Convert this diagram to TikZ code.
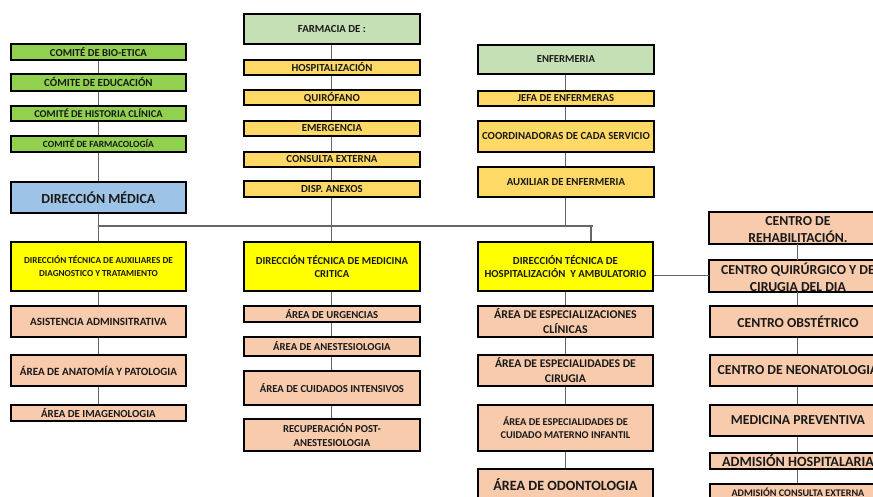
\documentclass[tikz,border=0pt]{standalone}
\usepackage{fontspec}
\setmainfont{Carlito}
\definecolor{cGreen}{HTML}{92D050}
\definecolor{cBlue}{HTML}{9DC3E6}
\definecolor{cLGreen}{HTML}{C5E0B4}
\definecolor{cGold}{HTML}{FFD966}
\definecolor{cYellow}{HTML}{FFFF00}
\definecolor{cPeach}{HTML}{F8CBAD}
\newcommand\fsz[2]{\fontsize{#1}{#2}\selectfont\bfseries}
\newcommand\bx[7]{\node[box,#6,anchor=north west,minimum width={(#4-#2)*0.75pt},minimum height={(#5-#3)*0.75pt}] (#1) at (#2,#3) {#7};}
\tikzset{
  box/.style={draw=black,line width=1.4pt,inner sep=1pt,align=center,text=black!90},
  txt/.style={inner sep=0pt,align=center,text=black!90},
  conn/.style={draw=black!60,line width=0.8pt},
  gr/.style={fill=cGreen},
  gd/.style={fill=cGold},
  pc/.style={fill=cPeach},
  yl/.style={fill=cYellow},
  lg/.style={fill=cLGreen}
}
\begin{document}
\begin{tikzpicture}[x=0.75pt,y=-0.75pt]
\useasboundingbox (0,0) rectangle (873,496);
\clip (0,0) rectangle (873,496);
\fill[white] (0,0) rectangle (873,496);
% left column
\bx{bio}{10}{43}{185}{59}{gr,font=\fsz{8}{9}}{COMITÉ DE BIO-ETICA}
\bx{edu}{10}{73}{185}{90}{gr,font=\fsz{8.2}{9}}{CÓMITE DE EDUCACIÓN}
\bx{hist}{10}{105}{185}{120}{gr,font=\fsz{7.8}{9}}{COMITÉ DE HISTORIA CLÍNICA}
\bx{farmc}{10}{135}{185}{151}{gr,font=\fsz{7.1}{9}}{COMITÉ DE FARMACOLOGÍA}
\bx{dm}{10}{181}{185}{212}{fill=cBlue,font=\fsz{10.4}{12}}{DIRECCIÓN MÉDICA}
\bx{dta}{10}{241}{185}{290}{yl,font=\fsz{6.9}{9.75}}{DIRECCIÓN TÉCNICA DE AUXILIARES DE\\DIAGNOSTICO Y TRATAMIENTO}
\bx{asis}{10}{305}{185}{336}{pc,font=\fsz{8.3}{9}}{ASISTENCIA ADMINSITRATIVA}
\bx{anat}{10}{354}{185}{385}{pc,font=\fsz{8.3}{9}}{ÁREA DE ANATOMÍA Y PATOLOGIA}
\bx{imag}{10}{404}{185}{420}{pc,font=\fsz{8.1}{9}}{ÁREA DE IMAGENOLOGIA}
% farmacia column
\bx{farm}{243}{13}{419}{43}{lg,font=\fsz{8.1}{9}}{FARMACIA DE :}
\bx{fh}{243}{59}{419}{74}{gd,font=\fsz{8.1}{9}}{HOSPITALIZACIÓN}
\bx{fq}{243}{89}{419}{104}{gd,font=\fsz{8.1}{9}}{QUIRÓFANO}
\bx{fe}{243}{120}{419}{135}{gd,font=\fsz{8.1}{9}}{EMERGENCIA}
\bx{fc}{243}{151}{419}{166}{gd,font=\fsz{8.1}{9}}{CONSULTA EXTERNA}
\bx{fd}{243}{180}{419}{196}{gd,font=\fsz{8.1}{9}}{DISP. ANEXOS}
\bx{dmc}{243}{241}{419}{290}{yl,font=\fsz{8}{9.75}}{DIRECCIÓN TÉCNICA DE MEDICINA\\CRITICA}
\bx{urg}{243}{305}{419}{321}{pc,font=\fsz{8}{9}}{ÁREA DE URGENCIAS}
\bx{anes}{243}{336}{419}{355}{pc,font=\fsz{8}{9}}{ÁREA DE ANESTESIOLOGIA}
\bx{uci}{243}{370}{419}{404}{pc,font=\fsz{8}{9}}{ÁREA DE CUIDADOS INTENSIVOS}
\bx{rec}{243}{418}{419}{450}{pc,font=\fsz{8}{10.5}}{RECUPERACIÓN POST-\\ANESTESIOLOGIA}
% enfermeria column
\bx{enf}{477}{44}{653}{73}{lg,font=\fsz{8}{9}}{ENFERMERIA}
\bx{jefa}{477}{90}{653}{105}{gd,font=\fsz{8}{9}}{JEFA DE ENFERMERAS}
\bx{coord}{477}{120}{653}{151}{gd,font=\fsz{8.1}{9}}{COORDINADORAS DE CADA SERVICIO}
\bx{aux}{477}{166}{653}{196}{gd,font=\fsz{8.1}{9}}{AUXILIAR DE ENFERMERIA}
\bx{dth}{477}{241}{652}{290}{yl,font=\fsz{8.1}{9.75}}{DIRECCIÓN TÉCNICA DE\\HOSPITALIZACIÓN\ \ Y AMBULATORIO}
\bx{esc}{477}{305}{652}{336}{pc,font=\fsz{8.9}{11.25}}{ÁREA DE ESPECIALIZACIONES\\CLÍNICAS}
\bx{ecir}{477}{354}{652}{385}{pc,font=\fsz{8.8}{11.25}}{ÁREA DE ESPECIALIDADES DE\\CIRUGIA}
\bx{emat}{477}{404}{652}{450}{pc,font=\fsz{7.8}{9.75}}{ÁREA DE ESPECIALIDADES DE\\CUIDADO MATERNO INFANTIL}
\bx{odon}{477}{468}{652}{499}{pc,font=\fsz{10.6}{12}}{ÁREA DE ODONTOLOGIA}
% right column
\bx{rehab}{709}{212}{885}{242}{pc,draw=none}{}
\begin{scope}
\clip (rehab.north west) rectangle (rehab.south east);
\node[txt,font=\fsz{10.3}{13}] (rehabT) at ([yshift=-1pt]rehab.center) {CENTRO DE\\REHABILITACIÓN.};
\end{scope}
\draw[line width=1.4pt] (rehab.north west) rectangle (rehab.south east);
\bx{quir}{709}{260}{885}{290}{pc,draw=none}{}
\begin{scope}
\clip (quir.north west) rectangle (quir.south east);
\node[txt,font=\fsz{10.3}{13}] (quirT) at ([yshift=-1pt]quir.center) {CENTRO QUIRÚRGICO Y DE\\CIRUGIA DEL DIA};
\end{scope}
\draw[line width=1.4pt] (quir.north west) rectangle (quir.south east);
\bx{obst}{709}{305}{885}{336}{pc,font=\fsz{10.3}{12}}{CENTRO OBSTÉTRICO}
\bx{neo}{709}{354}{885}{385}{pc,font=\fsz{10.3}{12}}{CENTRO DE NEONATOLOGIA}
\bx{prev}{709}{404}{885}{435}{pc,font=\fsz{10.3}{12}}{MEDICINA PREVENTIVA}
\bx{adh}{709}{452}{885}{468}{pc,font=\fsz{10.6}{12}}{ADMISIÓN HOSPITALARIA}
\bx{adc}{709}{483}{885}{499}{pc,font=\fsz{7.6}{9}}{ADMISIÓN CONSULTA EXTERNA}
% connectors
\coordinate (busL) at (97.5,226);
\coordinate (busR) at (593,226);
\coordinate (busH) at (591,226);
\draw[conn] (bio.south) -- (edu.north);
\draw[conn] (edu.south) -- (hist.north);
\draw[conn] (hist.south) -- (farmc.north);
\draw[conn] (farmc.south) -- (dm.north);
\draw[conn] (dm.south) -- (dta.north);
\draw[conn] (dta.south) -- (asis.north);
\draw[conn] (asis.south) -- (anat.north);
\draw[conn] (anat.south) -- (imag.north);
\draw[conn] (busL) -- (busR);
\draw[conn] (farm.south) -- (fh.north);
\draw[conn] (fh.south) -- (fq.north);
\draw[conn] (fq.south) -- (fe.north);
\draw[conn] (fe.south) -- (fc.north);
\draw[conn] (fc.south) -- (fd.north);
\draw[conn] (fd.south) -- (dmc.north);
\draw[conn] (dmc.south) -- (urg.north);
\draw[conn] (urg.south) -- (anes.north);
\draw[conn] (anes.south) -- (uci.north);
\draw[conn] (uci.south) -- (rec.north);
\draw[conn] (enf.south) -- (jefa.north);
\draw[conn] (jefa.south) -- (coord.north);
\draw[conn] (coord.south) -- (aux.north);
\draw[conn] (aux.south) -- (aux.south |- busR);
\draw[conn] (busH) -- (busH |- dth.north);
\draw[conn] (dth.south) -- (esc.north);
\draw[conn] (esc.south) -- (ecir.north);
\draw[conn] (ecir.south) -- (emat.north);
\draw[conn] (emat.south) -- (odon.north);
\draw[conn] (quir.west -| dth.east) -- (quir.west);
\draw[conn] (rehab.south) -- (quir.north);
\draw[conn] (quir.south) -- (obst.north);
\draw[conn] (obst.south) -- (neo.north);
\draw[conn] (neo.south) -- (prev.north);
\draw[conn] (prev.south) -- (adh.north);
\draw[conn] (adh.south) -- (adc.north);
\end{tikzpicture}
\end{document}
